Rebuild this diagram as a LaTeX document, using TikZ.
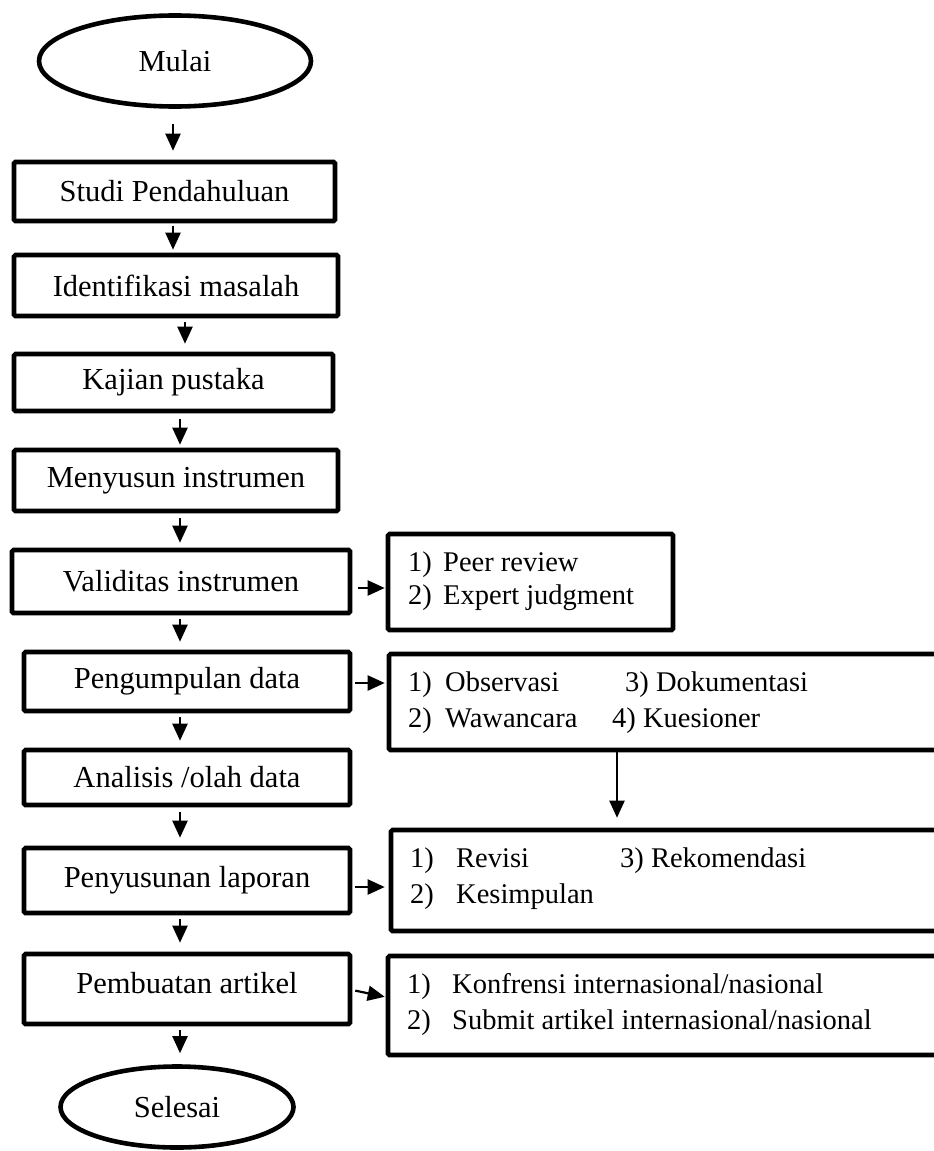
\documentclass[tikz,border=0pt]{standalone}
\usepackage{fontspec}
\setmainfont{Liberation Serif}
\usetikzlibrary{arrows.meta,shapes.geometric}
\tikzset{
  stepbox/.style={draw,line width=4.6pt,rectangle,rounded corners=1.5pt,inner sep=0pt,font=\fontsize{30.5}{35}\selectfont},
  oval/.style={draw,line width=4.6pt,ellipse,inner sep=0pt,font=\fontsize{30.5}{35}\selectfont},
  listbox/.style={draw,line width=4.6pt,rectangle,rounded corners=1.5pt,inner sep=0pt},
  item/.style={anchor=base west,inner sep=0pt,font=\fontsize{28.5}{33}\selectfont},
  conn/.style={line width=2.2pt,-{Triangle[length=17pt,width=15pt]}}
}
\begin{document}
\begin{tikzpicture}[x=1pt,y=-1pt]
\useasboundingbox (0,0) rectangle (934,1151);
\clip (0,0) rectangle (934,1151);
% main column
\node[oval,minimum width=272pt,minimum height=91pt] (mulai) at (175,61) {Mulai};
\node[stepbox,minimum width=321pt,minimum height=59pt] (studi) at (174.5,191.5) {Studi Pendahuluan};
\node[stepbox,minimum width=324pt,minimum height=61pt] (ident) at (176,285.5) {Identifikasi masalah};
\node[stepbox,minimum width=319pt,minimum height=57pt] (kajian) at (173.5,382.5) {Kajian pustaka};
\node[stepbox,minimum width=324pt,minimum height=61pt] (menyusun) at (176,480.5) {Menyusun instrumen};
\node[stepbox,minimum width=338pt,minimum height=63pt] (valid) at (181,581.5) {Validitas instrumen};
\node[stepbox,minimum width=326pt,minimum height=59pt] (kumpul) at (187,681.5) {Pengumpulan data};
\node[stepbox,minimum width=326pt,minimum height=55pt] (analisis) at (187,777.5) {Analisis /olah data};
\node[stepbox,minimum width=326pt,minimum height=65pt] (laporan) at (187,880.5) {Penyusunan laporan};
\node[stepbox,minimum width=326pt,minimum height=70pt,text depth=12pt] (artikel) at (187,989) {Pembuatan artikel};
\node[oval,minimum width=233pt,minimum height=81pt] (selesai) at (177,1107) {Selesai};
% right boxes
\node[listbox,minimum width=285pt,minimum height=96pt] (peer) at (530.5,582) {};
\node[listbox,minimum width=611pt,minimum height=96pt] (obs) at (694.5,702) {};
\node[listbox,minimum width=609pt,minimum height=101pt] (rev) at (695.5,880.5) {};
\node[listbox,minimum width=612pt,minimum height=99pt] (konf) at (694,1005.5) {};
% right box texts
\node[item] (p1n) at (408,571) {1)};
\node[item] (p1) at (443,571) {Peer review};
\node[item] (p2n) at (408,604) {2)};
\node[item] (p2) at (443,604) {Expert judgment};
\node[item] (o1n) at (408,691) {1)};
\node[item] (o1) at (445,691) {Observasi};
\node[item] (o3) at (625,691) {3) Dokumentasi};
\node[item] (o2n) at (408,727) {2)};
\node[item] (o2) at (445,727) {Wawancara};
\node[item] (o4) at (612,727) {4) Kuesioner};
\node[item] (r1n) at (410,867) {1)};
\node[item] (r1) at (456,867) {Revisi};
\node[item] (r3) at (620,867) {3) Rekomendasi};
\node[item] (r2n) at (410,903) {2)};
\node[item] (r2) at (456,903) {Kesimpulan};
\node[item] (k1n) at (407,993) {1)};
\node[item] (k1) at (452,993) {Konfrensi internasional/nasional};
\node[item] (k2n) at (407,1029) {2)};
\node[item] (k2) at (452,1029) {Submit artikel internasional/nasional};
% vertical connectors
\draw[conn,shorten <=15pt,shorten >=9pt] (173,0 |- mulai.south) -- (173,0 |- studi.north);
\draw[conn,shorten <=3pt,shorten >=3pt] (173,0 |- studi.south) -- (173,0 |- ident.north);
\draw[conn,shorten <=4pt,shorten >=8pt] (185,0 |- ident.south) -- (185,0 |- kajian.north);
\draw[conn,shorten <=6pt,shorten >=3pt] (180,0 |- kajian.south) -- (180,0 |- menyusun.north);
\draw[conn,shorten <=5pt,shorten >=5pt] (180,0 |- menyusun.south) -- (180,0 |- valid.north);
\draw[conn,shorten <=4pt,shorten >=8pt] (180,0 |- valid.south) -- (180,0 |- kumpul.north);
\draw[conn,shorten <=4pt,shorten >=7pt] (180,0 |- kumpul.south) -- (180,0 |- analisis.north);
\draw[conn,shorten <=5pt,shorten >=8pt] (180,0 |- analisis.south) -- (180,0 |- laporan.north);
\draw[conn,shorten <=4pt,shorten >=9pt] (180,0 |- laporan.south) -- (180,0 |- artikel.north);
\draw[conn,shorten <=4pt,shorten >=11pt] (180,0 |- artikel.south) -- (180,0 |- selesai.north);
\draw[conn,shorten <=0pt,shorten >=10pt] (617,0 |- obs.south) -- (617,0 |- rev.north);
% horizontal connectors
\draw[conn,shorten <=6pt,shorten >=1pt] (valid.east |- 0,588) -- (peer.west |- 0,588);
\draw[conn,shorten <=3pt,shorten >=2pt] (kumpul.east |- 0,683) -- (obs.west |- 0,683);
\draw[conn,shorten <=3pt,shorten >=4pt] (laporan.east |- 0,887) -- (rev.west |- 0,887);
\draw[conn,shorten <=3pt,shorten >=1pt] (artikel.east |- 0,990) -- (konf.west |- 0,997);
\end{tikzpicture}
\end{document}
